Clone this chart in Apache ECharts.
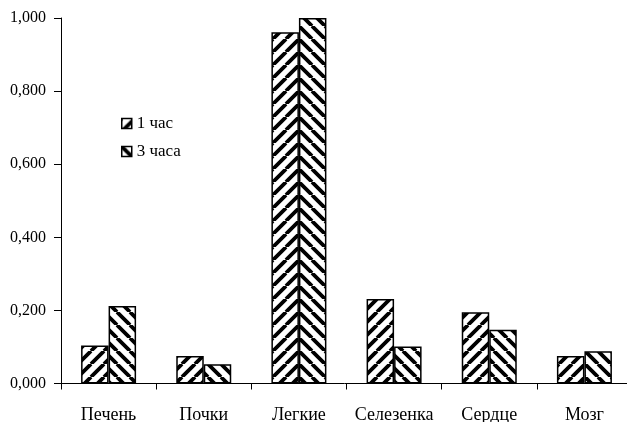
<!DOCTYPE html>
<html>
<head>
<meta charset="utf-8">
<script src="https://cdn.jsdelivr.net/npm/echarts@6/dist/echarts.min.js"></script>
<style>
html,body{margin:0;padding:0;background:#fff;}
#chart{width:627px;height:422px;}
</style>
</head>
<body>
<div id="chart"></div>
<script>
const categories = ['Печень', 'Почки', 'Легкие', 'Селезенка', 'Сердце', 'Мозг'];
const series1Name = '1 час';
const series2Name = '3 часа';
const values1 = [0.104, 0.075, 0.961, 0.231, 0.195, 0.075];
const values2 = [0.212, 0.053, 1.000, 0.101, 0.147, 0.088];
const yTicks = [0, 0.2, 0.4, 0.6, 0.8, 1.0];

function makePattern(dir) {
  const P = 13;
  const c = document.createElement('canvas');
  c.width = P; c.height = P;
  const ctx = c.getContext('2d');
  ctx.fillStyle = '#fff';
  ctx.fillRect(0, 0, P, P);
  ctx.strokeStyle = '#000';
  ctx.lineWidth = 3.8;
  ctx.beginPath();
  for (let k = -1; k <= 1; k++) {
    if (dir === '/') {
      ctx.moveTo(k * P, P); ctx.lineTo(k * P + P, 0);
    } else {
      ctx.moveTo(k * P, 0); ctx.lineTo(k * P + P, P);
    }
  }
  ctx.stroke();
  return c;
}
const pat1 = { image: makePattern('/'), repeat: 'repeat' };
const pat2 = { image: makePattern('\\'), repeat: 'repeat' };

const font = '"Liberation Serif", "Times New Roman", serif';
const chart = echarts.init(document.getElementById('chart'), null, { renderer: 'canvas' });
chart.setOption({
  backgroundColor: '#fff',
  animation: false,
  textStyle: { fontFamily: font, color: '#000' },
  grid: { left: 61, top: 18, width: 571, bottom: 38.5, containLabel: false, outerBoundsMode: 'none' },
  legend: {
    orient: 'vertical',
    left: 121, top: 115, padding: 0,
    itemWidth: 10, itemHeight: 10, itemGap: 11,
    icon: 'rect',
    textStyle: { fontFamily: font, fontSize: 17, color: '#000' },
    data: [
      { name: series1Name, itemStyle: { color: pat1, borderColor: '#000', borderWidth: 1.5 } },
      { name: series2Name, itemStyle: { color: pat2, borderColor: '#000', borderWidth: 1.5 } }
    ]
  },
  xAxis: {
    type: 'category',
    data: categories,
    axisLine: { lineStyle: { color: '#000', width: 1 } },
    axisTick: { show: true, length: 6, lineStyle: { color: '#000' } },
    axisLabel: { fontFamily: font, fontSize: 18, color: '#000', margin: 23, interval: 0 }
  },
  yAxis: {
    type: 'value',
    min: 0, max: 1, interval: 0.2,
    splitLine: { show: false },
    axisLine: { show: true, lineStyle: { color: '#000', width: 1 } },
    axisTick: { show: true, length: 7, lineStyle: { color: '#000' } },
    axisLabel: {
      fontFamily: font, fontSize: 16, color: '#000', margin: 15,
      formatter: v => v.toFixed(3).replace('.', ',')
    }
  },
  series: [
    {
      name: series1Name, type: 'bar', data: values1,
      barWidth: 27.5, barGap: '0%',
      itemStyle: { color: pat1, borderColor: '#000', borderWidth: 1.5 }
    },
    {
      name: series2Name, type: 'bar', data: values2,
      barWidth: 27.5, barGap: '0%',
      itemStyle: { color: pat2, borderColor: '#000', borderWidth: 1.5 }
    }
  ]
});
</script>
</body>
</html>
